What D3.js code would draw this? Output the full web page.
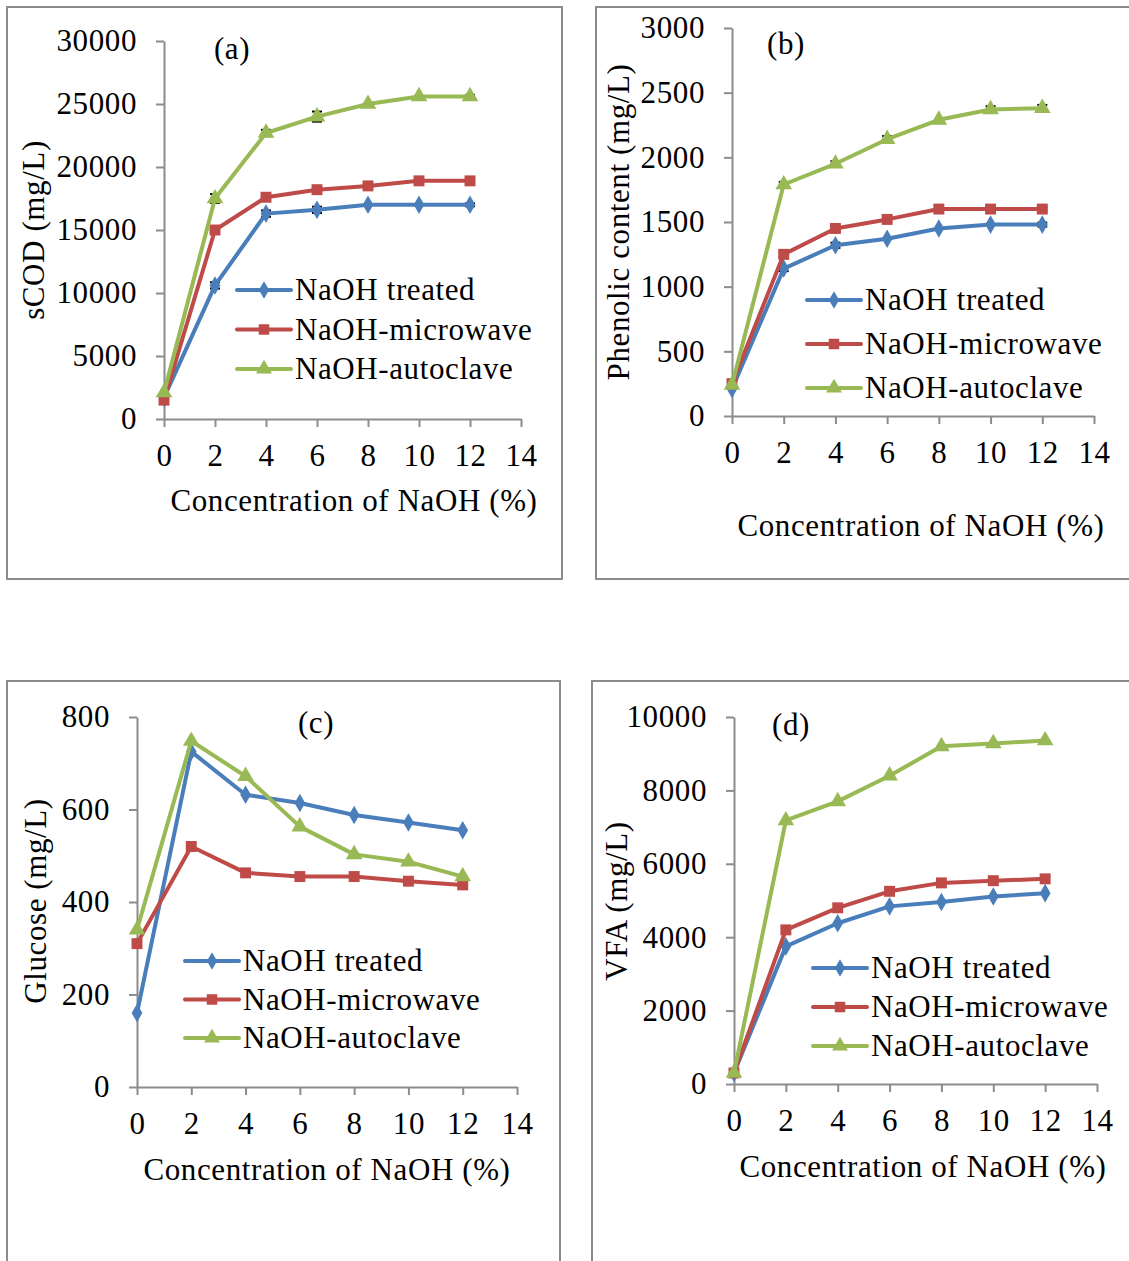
<!DOCTYPE html>
<html>
<head>
<meta charset="utf-8">
<script src="https://cdn.jsdelivr.net/npm/d3@7"></script>
<style>
  body { margin: 0; background: #fff; }
  text { font-family: "Liberation Serif", "Times New Roman", serif; fill: #000; letter-spacing: 0.6px; }
</style>
</head>
<body>
<svg id="chart" width="1129" height="1261"></svg>
<script>
var concentration = [0, 2, 4, 6, 8, 10, 12];
var xTicks = [0, 2, 4, 6, 8, 10, 12, 14];
var seriesNames = ['NaOH treated', 'NaOH-microwave', 'NaOH-autoclave'];
var seriesColors = ['#4a7ebb', '#be4b48', '#98b954'];
var seriesShapes = [d3.symbolDiamond, d3.symbolSquare, d3.symbolTriangle];
var fontSize = '31px';
var serif = '"Liberation Serif", "Times New Roman", serif';

// (a) sCOD
var scodTreated = [1700, 10600, 16300, 16600, 17000, 17000, 17000];
var scodMicrowave = [1500, 15000, 17600, 18200, 18500, 18900, 18900];
var scodAutoclave = [2100, 17500, 22700, 24000, 25000, 25600, 25600];
var scodErrors = [[0, 250, 250, 250, 0, 0, 120], [0, 250, 300, 0, 0, 0, 120], [0, 350, 250, 400, 0, 0, 120]];
var scodTicks = [0, 5000, 10000, 15000, 20000, 25000, 30000];

// (b) phenolic content
var phenTreated = [210, 1140, 1320, 1370, 1450, 1480, 1480];
var phenMicrowave = [250, 1250, 1450, 1520, 1600, 1600, 1600];
var phenAutoclave = [240, 1790, 1950, 2140, 2290, 2370, 2380];
var phenErrors = [[0, 20, 20, 0, 0, 0, 15], [0, 20, 15, 25, 0, 0, 15], [0, 20, 20, 25, 0, 25, 25]];
var phenTicks = [0, 500, 1000, 1500, 2000, 2500, 3000];

// (c) glucose
var glucTreated = [160, 725, 632, 614, 588, 572, 555];
var glucMicrowave = [310, 520, 463, 455, 455, 445, 437];
var glucAutoclave = [340, 748, 672, 563, 503, 487, 455];
var glucTicks = [0, 200, 400, 600, 800];

// (d) VFA
var vfaTreated = [300, 3750, 4380, 4840, 4960, 5110, 5200];
var vfaMicrowave = [300, 4200, 4800, 5250, 5480, 5540, 5590];
var vfaAutoclave = [300, 7180, 7700, 8400, 9200, 9280, 9360];
var vfaTicks = [0, 2000, 4000, 6000, 8000, 10000];

var svg = d3.select('#chart');

function drawPanel(p) {
  var g = svg.append('g');

  // frame
  g.append('rect')
    .attr('x', p.frame[0]).attr('y', p.frame[1])
    .attr('width', p.frame[2]).attr('height', p.frame[3])
    .attr('fill', 'none').attr('stroke', '#8c8c8c').attr('stroke-width', 2);

  var x = d3.scaleLinear().domain([0, 14]).range([p.x0, p.x1]);
  var y = d3.scaleLinear().domain([0, p.ticks[p.ticks.length - 1]]).range([p.y0, p.y1]);

  // axes
  var xAxis = d3.axisBottom(x).tickValues(xTicks).tickSize(8).tickSizeOuter(0)
    .tickPadding(17).tickFormat(d3.format('d'));
  var yAxis = d3.axisLeft(y).tickValues(p.ticks).tickSize(8).tickSizeOuter(0)
    .tickPadding(19).tickFormat(d3.format('d'));
  var gx = g.append('g').attr('transform', 'translate(0,' + p.y0 + ')').call(xAxis);
  var gy = g.append('g').attr('transform', 'translate(' + p.x0 + ',0)').call(yAxis);
  [gx, gy].forEach(function (ax) {
    ax.attr('font-family', serif).attr('font-size', fontSize);
    ax.select('.domain').attr('stroke', '#8c8c8c').attr('stroke-width', 2);
    ax.selectAll('.tick line').attr('stroke', '#8c8c8c').attr('stroke-width', 2);
    ax.selectAll('.tick text').attr('fill', '#000');
  });

  var line = d3.line()
    .x(function (d, i) { return x(concentration[i]); })
    .y(function (d) { return y(d); });

  p.series.forEach(function (vals, s) {
    // error bars
    if (p.errors) {
      vals.forEach(function (v, i) {
        var e = p.errors[s][i];
        if (!e) return;
        var cx = x(concentration[i]);
        g.append('line')
          .attr('x1', cx).attr('x2', cx)
          .attr('y1', y(v - e)).attr('y2', y(v + e))
          .attr('stroke', '#000').attr('stroke-width', 1.5);
        [v - e, v + e].forEach(function (ev) {
          g.append('line')
            .attr('x1', cx - 5).attr('x2', cx + 5)
            .attr('y1', y(ev)).attr('y2', y(ev))
            .attr('stroke', '#000').attr('stroke-width', 2);
        });
      });
    }
    g.append('path')
      .datum(vals)
      .attr('d', line)
      .attr('fill', 'none')
      .attr('stroke', seriesColors[s])
      .attr('stroke-width', 4)
      .attr('stroke-linejoin', 'round');
    g.selectAll('.m' + s)
      .data(vals)
      .enter()
      .append('path')
      .attr('transform', function (d, i) {
        return 'translate(' + x(concentration[i]) + ',' + y(d) + ')';
      })
      .attr('d', d3.symbol().type(seriesShapes[s]).size(s === 0 ? 100 : 120))
      .attr('fill', seriesColors[s]);
  });

  // legend
  seriesNames.forEach(function (name, s) {
    var ly = p.legend[1] + s * p.legend[2];
    g.append('line')
      .attr('x1', p.legend[0]).attr('x2', p.legend[0] + 54)
      .attr('y1', ly).attr('y2', ly)
      .attr('stroke', seriesColors[s]).attr('stroke-width', 4)
      .attr('stroke-linecap', 'round');
    g.append('path')
      .attr('transform', 'translate(' + (p.legend[0] + 27) + ',' + ly + ')')
      .attr('d', d3.symbol().type(seriesShapes[s]).size(s === 0 ? 90 : 110))
      .attr('fill', seriesColors[s]);
    g.append('text')
      .attr('x', p.legend[0] + 58)
      .attr('y', ly + 10)
      .style('font-size', fontSize)
      .text(name);
  });

  // panel letter
  g.append('text')
    .attr('x', p.letter[0]).attr('y', p.letter[1])
    .attr('text-anchor', 'middle')
    .style('font-size', fontSize)
    .text(p.letterText);

  // axis titles
  g.append('text')
    .attr('x', p.xTitle[0]).attr('y', p.xTitle[1])
    .attr('text-anchor', 'middle')
    .style('font-size', fontSize)
    .text('Concentration of NaOH (%)');
  g.append('text')
    .attr('text-anchor', 'middle')
    .attr('transform', 'translate(' + p.yTitle[0] + ',' + p.yTitle[1] + ')rotate(-90)')
    .style('font-size', fontSize)
    .text(p.yTitleText);
}

drawPanel({
  frame: [7, 7, 555, 572], x0: 164, x1: 521, y0: 419, y1: 41,
  ticks: scodTicks, series: [scodTreated, scodMicrowave, scodAutoclave], errors: scodErrors,
  legend: [237, 290, 39.5], letter: [232, 59], letterText: '(a)',
  xTitle: [354, 511], yTitle: [44, 230], yTitleText: 'sCOD (mg/L)'
});
drawPanel({
  frame: [596, 7, 560, 572], x0: 732, x1: 1094, y0: 416, y1: 28,
  ticks: phenTicks, series: [phenTreated, phenMicrowave, phenAutoclave], errors: phenErrors,
  legend: [807, 300, 44], letter: [786, 54], letterText: '(b)',
  xTitle: [921, 536], yTitle: [629, 222], yTitleText: 'Phenolic content (mg/L)'
});
drawPanel({
  frame: [7, 681, 553, 620], x0: 137, x1: 517, y0: 1087, y1: 717,
  ticks: glucTicks, series: [glucTreated, glucMicrowave, glucAutoclave],
  legend: [185, 961, 38.5], letter: [316, 733], letterText: '(c)',
  xTitle: [327, 1180], yTitle: [46, 901], yTitleText: 'Glucose (mg/L)'
});
drawPanel({
  frame: [592, 681, 560, 620], x0: 734, x1: 1097, y0: 1084, y1: 717,
  ticks: vfaTicks, series: [vfaTreated, vfaMicrowave, vfaAutoclave],
  legend: [813, 968, 39], letter: [791, 735], letterText: '(d)',
  xTitle: [923, 1177], yTitle: [627, 901], yTitleText: 'VFA (mg/L)'
});
</script>
</body>
</html>
